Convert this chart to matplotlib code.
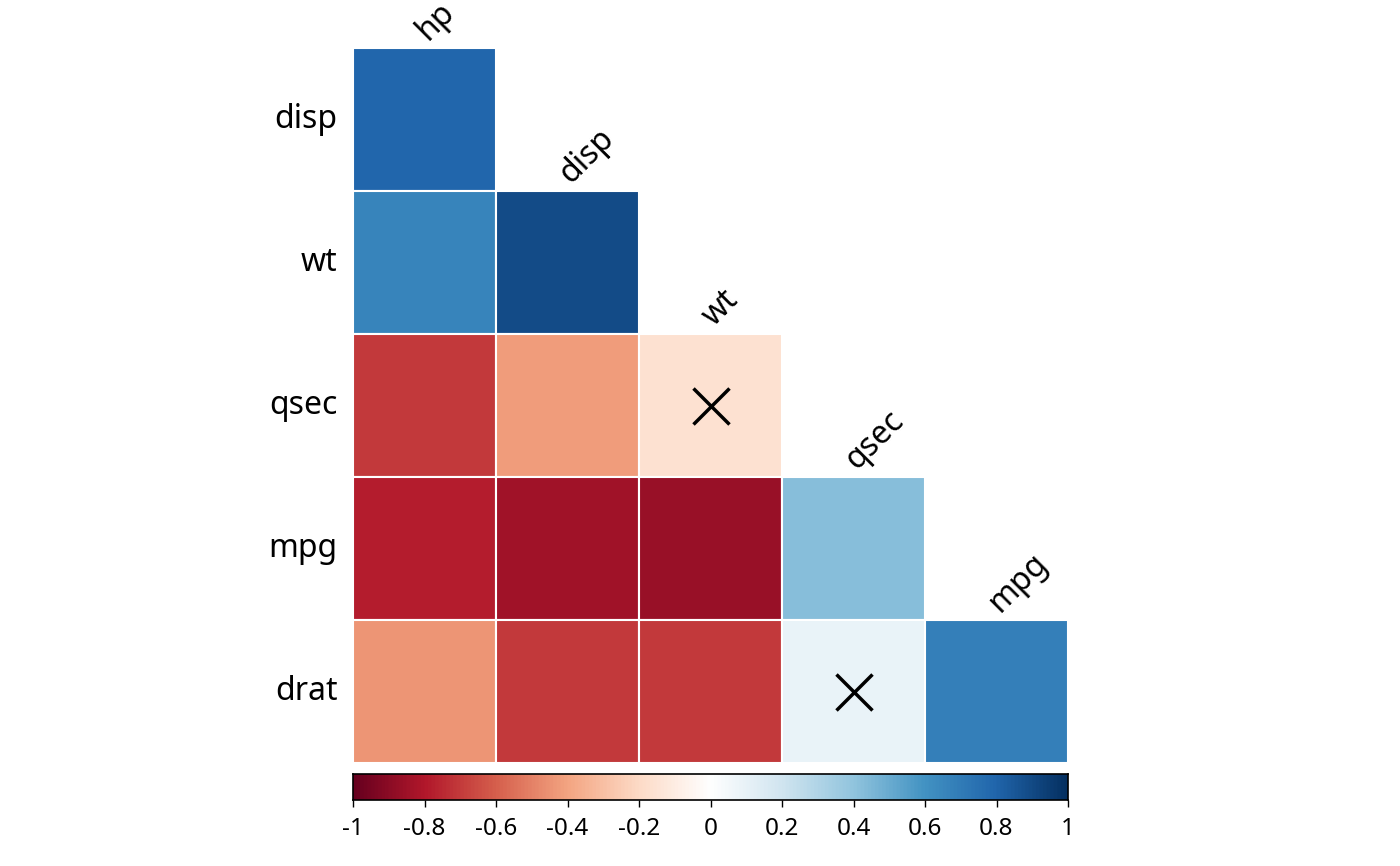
import numpy as np
import matplotlib
matplotlib.use("Agg")
import matplotlib.pyplot as plt
from matplotlib.colors import LinearSegmentedColormap, Normalize

plt.rcParams["font.family"] = ["Noto Sans", "DejaVu Sans"]

# hclust order of the mtcars variables
row_labels = ["disp", "wt", "qsec", "mpg", "drat"]
col_labels = ["hp", "disp", "wt", "qsec", "mpg"]

# lower triangle (no diagonal), row i has i+1 values
corr_rows = [
    [0.79],
    [0.66, 0.89],
    [-0.71, -0.43, -0.17],
    [-0.78, -0.85, -0.87, 0.42],
    [-0.45, -0.71, -0.71, 0.09, 0.68],
]
# insignificant cells (row, col) marked with a cross
insig = [(2, 2), (4, 3)]

cbar_ticks = [-1, -0.8, -0.6, -0.4, -0.2, 0, 0.2, 0.4, 0.6, 0.8, 1]
cbar_labels = ["-1", "-0.8", "-0.6", "-0.4", "-0.2", "0", "0.2", "0.4", "0.6", "0.8", "1"]

cmap = LinearSegmentedColormap.from_list("rdbu2", [
    "#67001F", "#B2182B", "#D6604D", "#F4A582", "#FDDBC7", "#FFFFFF",
    "#D1E5F0", "#92C5DE", "#4393C3", "#2166AC", "#053061"], N=200)
norm = Normalize(-1, 1)

W, H = 1400, 866
fig = plt.figure(figsize=(W / 100, H / 100), dpi=100)
L, R, T, B = 353, 1068, 48, 763
ax = fig.add_axes([L / W, 1 - B / H, (R - L) / W, (B - T) / H])
ax.set_xlim(0, 5); ax.set_ylim(5, 0)
ax.axis("off")

for i, vals in enumerate(corr_rows):
    for j, v in enumerate(vals):
        ax.add_patch(plt.Rectangle((j, i), 1, 1, facecolor=cmap(norm(v)),
                                   edgecolor="white", linewidth=1.5))
for i, j in insig:
    ax.plot(j + 0.5, i + 0.5, marker="x", markersize=26, mew=2.5, color="black")

for i, lab in enumerate(row_labels):
    ax.text(-0.11, i + 0.5, lab, ha="right", va="center", fontsize=23)
for j, lab in enumerate(col_labels):
    ax.text(j + 0.52, j - 0.05, lab, ha="left", va="baseline", rotation=45,
            rotation_mode="anchor", fontsize=23)

# colour legend
cax = fig.add_axes([L / W, 1 - 800 / H, (R - L) / W, 26 / H])
grad = np.linspace(-1, 1, 400).reshape(1, -1)
cax.imshow(grad, cmap=cmap, norm=norm, aspect="auto", extent=(-1, 1, 0, 1))
cax.set_yticks([])
cax.set_xticks(cbar_ticks)
cax.set_xticklabels(cbar_labels, fontsize=17.5)
cax.tick_params(axis="x", length=5, width=1, pad=7)
for s in cax.spines.values():
    s.set_linewidth(1.2)

fig.savefig("out.png", dpi=100)
